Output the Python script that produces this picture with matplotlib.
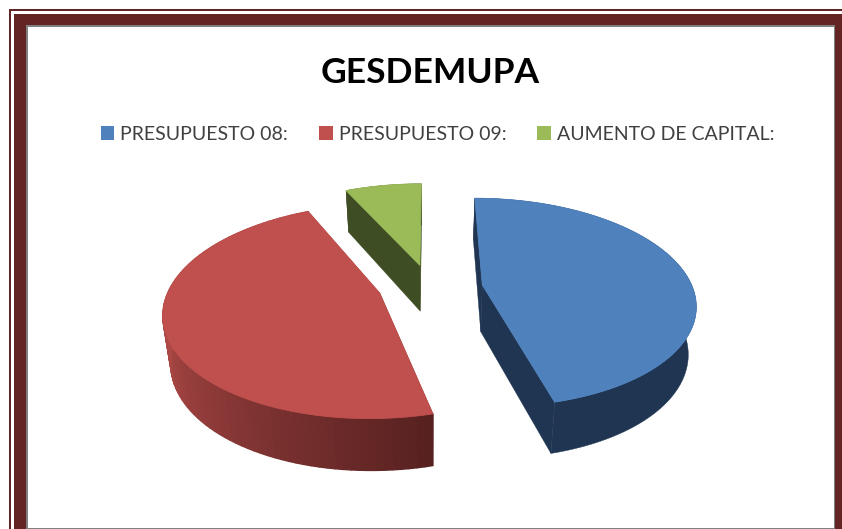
import numpy as np
import matplotlib
matplotlib.use('Agg')
import matplotlib.pyplot as plt
from matplotlib.patches import Rectangle, Patch
from matplotlib.colors import to_rgb

# datos
labels = ['PRESUPUESTO 08:', 'PRESUPUESTO 09:', 'AUMENTO DE CAPITAL:']
values = [46.0, 47.0, 7.0]
colors = ['#4f81bd', '#c0504d', '#9bbb59']
wall_start = ['#1f3552', '#ab4845', '#3f4d24']
wall_end = ['#1f3552', '#572120', '#3f4d24']

# separacion de cada porcion respecto al centro del pastel
offsets = [(0.25, 0.05), (-0.237, -0.03), (-0.05, 0.25)]
CX, CY = 430, 290
RX, RY, K = 211, 103, 0.17
DEPTH = 47

plt.rcParams['font.family'] = ['Lato', 'DejaVu Sans']
fig = plt.figure(figsize=(8.42, 5.29), dpi=100)
ax = fig.add_axes([0, 0, 1, 1])
ax.set_xlim(0, 842)
ax.set_ylim(529, 0)
ax.axis('off')

# marco
maroon = '#632523'
ax.add_patch(Rectangle((9, 9), 860, 540, fc=maroon, ec='none'))
ax.add_patch(Rectangle((11, 11), 860, 540, fc='white', ec='none'))
ax.add_patch(Rectangle((14, 14), 860, 540, fc=maroon, ec='none'))
ax.add_patch(Rectangle((26, 25), 809, 504, fc='#808080', ec='none'))
ax.add_patch(Rectangle((27.5, 26.5), 806, 501, fc='white', ec='none'))


def project(ang, rad, off, bottom=False):
    # angulo desde arriba en sentido horario, con perspectiva
    x = rad * np.sin(ang) + off[0]
    y = rad * np.cos(ang) + off[1]
    w = 1 + K * y
    sx = RX * x / w
    sy = -RY * y / w
    if bottom:
        sx = sx * 0.97
        sy = sy + DEPTH * (1 - 0.1 * y)
    return CX + sx, CY + sy


angles = np.cumsum([0] + values) / sum(values) * 360
for i in range(len(values)):
    a = np.radians(np.linspace(angles[i], angles[i + 1], 90))
    off = offsets[i]
    c0 = np.array(to_rgb(wall_start[i]))
    c1 = np.array(to_rgb(wall_end[i]))
    # caras radiales
    for end in (a[0], a[-1]):
        tx, ty = project(end, 1, off)
        bx, by = project(end, 1, off, True)
        ax0, ay0 = project(end, 0, off)
        ax1, ay1 = project(end, 0, off, True)
        col = c1 if end == a[0] else c0
        ax.fill([ax0, tx, bx, ax1], [ay0, ty, by, ay1], color=col, lw=0.3)
    # pared exterior
    xt, yt = project(a, 1, off)
    xb, yb = project(a, 1, off, True)
    if i == 1:
        for j in range(len(a) - 1):
            t = min(j / (len(a) - 2) * 1.9, 1)
            col = c1 + (c0 - c1) * t
            ax.fill([xt[j], xt[j + 1], xb[j + 1], xb[j]], [yt[j], yt[j + 1], yb[j + 1], yb[j]], color=col, lw=1)
    else:
        ax.fill(np.r_[xt, xb[::-1]], np.r_[yt, yb[::-1]], color=c0, lw=0.3)
    # cara superior
    ax0, ay0 = project(a[0], 0, off)
    ax.fill(np.r_[ax0, xt], np.r_[ay0, yt], color=colors[i], lw=0.6)

ax.text(430, 73, 'GESDEMUPA', ha='center', va='center', fontsize=25.5, fontweight='bold', color='black')

handles = [Patch(fc=col, ec='none') for col in colors]
ax.legend(handles, labels, ncol=3, loc='center', bbox_to_anchor=(437.5 / 842, 1 - 134 / 529), frameon=False,
          fontsize=14, handlelength=0.7, handleheight=0.7, handletextpad=0.3, columnspacing=1.6,
          labelcolor='#404040', borderpad=0)

fig.savefig('out.png', dpi=100)
